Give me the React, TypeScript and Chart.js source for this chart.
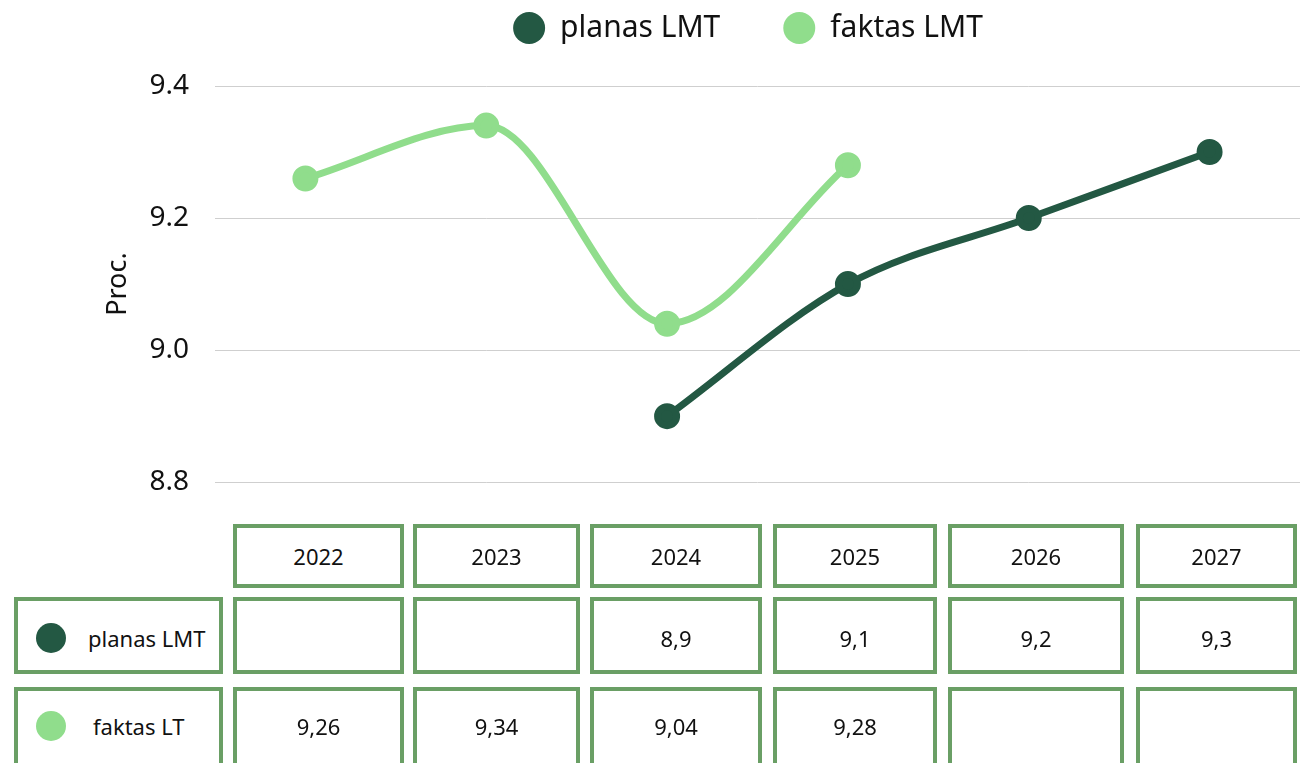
import React, { useEffect, useRef } from "react";
import { Chart, registerables } from "chart.js";

Chart.register(...registerables);

// ---- data ----
const categories = ["2022", "2023", "2024", "2025", "2026", "2027"];
const planasLMT: (number | null)[] = [null, null, 8.9, 9.1, 9.2, 9.3];
const faktasLMT: (number | null)[] = [9.26, 9.34, 9.04, 9.28, null, null];
const yTickValues = [8.8, 9.0, 9.2, 9.4];
const seriesNames = ["planas LMT", "faktas LMT"];
const tableRowNames = ["planas LMT", "faktas LT"];
const yAxisTitle = "Proc.";

// ---- style / layout ----
const DARK = "#235843";
const LIGHT = "#90dd8c";
const BORDER = "#6a9f65";
const FONT = "'Noto Sans', 'Open Sans', sans-serif";

const CANVAS_TOP = -50;
const CANVAS_W = 1301;
const CANVAS_H = 575;
const LEGEND_H = 136;
const LEGEND_SHIFT = -9.5;

const LABEL_COL: [number, number] = [14, 223];
const VALUE_COLS: [number, number][] = [
  [233, 404],
  [413, 580],
  [590, 762],
  [773, 937],
  [948, 1124],
  [1136, 1297],
];
const ROWS_Y: [number, number][] = [
  [524, 588],
  [597, 674],
  [687, 770],
];
const LABEL_TEXT_LEFT = [70, 75];

const chromePlugin = {
  id: "chrome",
  beforeLayout(chart: any) {
    const legend = chart.legend;
    if (legend && !legend.__patched) {
      const fit = legend.fit;
      legend.fit = function () {
        fit.call(this);
        this.height = LEGEND_H;
      };
      legend.__patched = true;
    }
  },
  afterLayout(chart: any) {
    const legend = chart.legend;
    if (legend) {
      legend.left += LEGEND_SHIFT;
      legend.right += LEGEND_SHIFT;
    }
  },
};

function fmt(v: number | null): string {
  return v == null ? "" : String(v).replace(".", ",");
}

function Cell(props: { x: [number, number]; y: [number, number]; children?: React.ReactNode; center?: boolean }) {
  const { x, y, children, center = true } = props;
  return (
    <div
      style={{
        position: "absolute",
        left: x[0],
        top: y[0],
        width: x[1] - x[0],
        height: y[1] - y[0],
        boxSizing: "border-box",
        border: `4px solid ${BORDER}`,
        display: "flex",
        alignItems: "center",
        justifyContent: center ? "center" : "flex-start",
        fontFamily: FONT,
        fontSize: 22,
        color: "#111",
        background: "#fff",
      }}
    >
      {children}
    </div>
  );
}

export default function App() {
  const canvasRef = useRef<HTMLCanvasElement | null>(null);

  useEffect(() => {
    if (!canvasRef.current) return;
    const chart = new Chart(canvasRef.current, {
      type: "line",
      data: {
        labels: categories,
        datasets: [
          {
            label: seriesNames[0],
            data: planasLMT,
            borderColor: DARK,
            backgroundColor: DARK,
            pointBackgroundColor: DARK,
            pointBorderColor: DARK,
            borderWidth: 7,
            pointRadius: 9.5,
            pointHoverRadius: 9.5,
            cubicInterpolationMode: "monotone",
          },
          {
            label: seriesNames[1],
            data: faktasLMT,
            borderColor: LIGHT,
            backgroundColor: LIGHT,
            pointBackgroundColor: LIGHT,
            pointBorderColor: LIGHT,
            borderWidth: 7,
            pointRadius: 9.5,
            pointHoverRadius: 9.5,
            cubicInterpolationMode: "monotone",
          },
        ],
      },
      options: {
        responsive: false,
        animation: false,
        layout: { autoPadding: false, padding: { left: 0, right: 1, top: 0, bottom: 0 } },
        plugins: {
          legend: {
            display: true,
            position: "top",
            fullSize: false,
            labels: {
              font: { family: FONT, size: 30 },
              color: "#111",
              usePointStyle: true,
              pointStyle: "circle",
              pointStyleWidth: 32,
              boxHeight: 22.6,
              padding: 63,
              generateLabels: (c: any) =>
                (Chart.defaults.plugins.legend.labels as any)
                  .generateLabels(c)
                  .map((l: any) => ({ ...l, lineWidth: 0, pointStyle: "circle" })),
            },
          },
          tooltip: { enabled: false },
        },
        scales: {
          x: {
            type: "category",
            display: false,
            offset: true,
            grid: { display: false, drawTicks: false },
            ticks: { display: false, padding: 0 },
            border: { display: false },
          },
          y: {
            min: 8.8,
            max: 9.4,
            afterBuildTicks: (s: any) => {
              s.ticks = yTickValues.map((v) => ({ value: v }));
            },
            afterFit: (s: any) => {
              s.width = 215;
            },
            grid: { color: "#cfcfcf", lineWidth: 1, drawTicks: false },
            border: { display: false },
            ticks: {
              padding: 26,
              font: { family: FONT, size: 28 },
              color: "#111",
              callback: (v: any) => Number(v).toFixed(1),
            },
            title: {
              display: true,
              text: yAxisTitle,
              font: { family: FONT, size: 27 },
              color: "#111",
              padding: { top: 102, bottom: 0 },
            },
          },
        },
      } as any,
      plugins: [chromePlugin as any],
    });
    return () => chart.destroy();
  }, []);

  const rows = [planasLMT, faktasLMT];
  const rowColors = [DARK, LIGHT];

  return (
    <div
      style={{
        position: "absolute",
        left: 0,
        top: 0,
        width: 1301,
        height: 763,
        overflow: "hidden",
        background: "#fff",
      }}
    >
      <canvas
        ref={canvasRef}
        width={CANVAS_W}
        height={CANVAS_H}
        style={{ position: "absolute", left: 0, top: CANVAS_TOP, width: CANVAS_W, height: CANVAS_H }}
      />
      {categories.map((c, i) => (
        <Cell key={"h" + c} x={VALUE_COLS[i]} y={ROWS_Y[0]}>
          {c}
        </Cell>
      ))}
      {rows.map((r, ri) => (
        <React.Fragment key={"r" + ri}>
          <Cell x={LABEL_COL} y={ROWS_Y[ri + 1]} center={false}>
            <div
              style={{
                position: "absolute",
                left: 18,
                top: "50%",
                marginTop: -15 + (ri === 0 ? 2 : -3),
                width: 30,
                height: 30,
                borderRadius: "50%",
                background: rowColors[ri],
              }}
            />
            <div style={{ position: "absolute", left: LABEL_TEXT_LEFT[ri], top: "50%", transform: "translateY(-50%)", marginTop: ri === 0 ? 2 : -3, whiteSpace: "nowrap" }}>
              {tableRowNames[ri]}
            </div>
          </Cell>
          {r.map((v, ci) => (
            <Cell key={"c" + ri + "-" + ci} x={VALUE_COLS[ci]} y={ROWS_Y[ri + 1]}>
              <span style={{ position: "relative", top: ri === 0 ? 2 : -3 }}>{fmt(v)}</span>
            </Cell>
          ))}
        </React.Fragment>
      ))}
    </div>
  );
}
